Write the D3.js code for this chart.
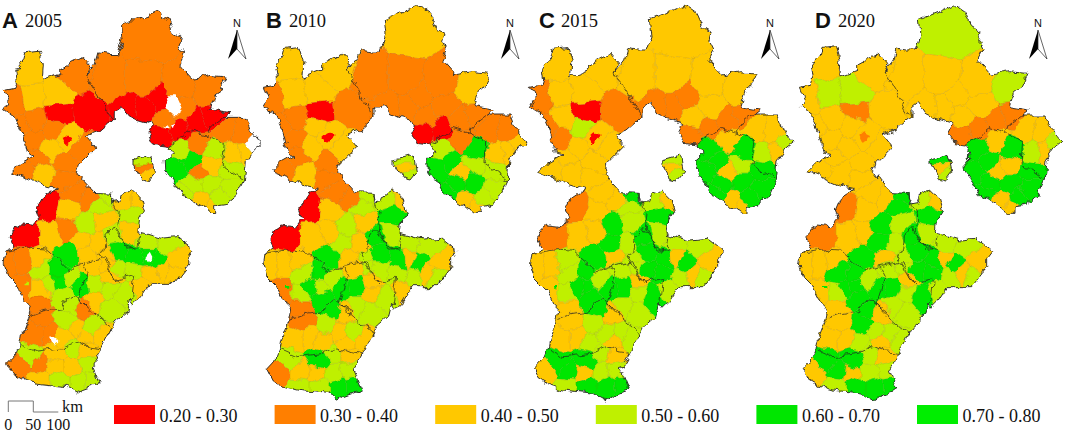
<!DOCTYPE html>
<html>
<head>
<meta charset="utf-8">
<script src="https://cdn.jsdelivr.net/npm/d3@7"></script>
<style>
  html, body { margin: 0; background: #fff; }
  svg { display: block; }
  .serif { font-family: "Liberation Serif", serif; fill: #111; }
  .letter { font-family: "Liberation Sans", sans-serif; font-weight: bold; fill: #111; }
</style>
</head>
<body>
<div id="chart"></div>
<script>
// panels
var panelNames = ["A", "B", "C", "D"];
var panelYears = ["2005", "2010", "2015", "2020"];

// legend
var legendLabels = ["0.20 - 0.30", "0.30 - 0.40", "0.40 - 0.50", "0.50 - 0.60", "0.60 - 0.70", "0.70 - 0.80"];
var legendValues = [25, 35, 45, 55, 65, 75];
var classBreaks = [30, 40, 50, 60, 70];
var classColors = ["#ff0000", "#ff7f00", "#ffc800", "#bff000", "#00e600", "#00ee00"];

// map outline, in map units
var outlineMain = [[10,262],[45,255],[50,240],[45,205],[72,170],[78,145],[120,140],[132,180],[128,232],[185,210],[185,195],[250,160],[275,190],[262,215],[290,180],[300,145],[330,150],[360,150],[375,105],[370,60],[440,30],[475,15],[510,40],[530,85],[555,100],[548,125],[560,150],[545,180],[585,225],[640,215],[690,220],[670,265],[655,275],[640,320],[700,330],[680,345],[750,345],[765,385],[800,425],[775,445],[750,480],[745,540],[725,585],[690,615],[660,620],[660,640],[640,640],[620,625],[575,595],[555,590],[530,545],[505,510],[503,480],[525,460],[508,435],[470,430],[455,400],[470,370],[420,355],[390,340],[370,310],[345,330],[345,350],[300,390],[262,405],[290,440],[240,490],[232,515],[250,540],[285,578],[340,580],[340,610],[365,605],[370,590],[400,570],[430,600],[440,635],[425,660],[420,700],[440,705],[490,720],[540,715],[590,755],[575,775],[575,800],[530,860],[455,860],[430,900],[405,925],[395,910],[385,950],[350,980],[335,1010],[310,1060],[280,1110],[305,1170],[250,1190],[235,1200],[200,1180],[110,1170],[75,1160],[40,1140],[22,1105],[50,1075],[60,1050],[65,1020],[90,955],[95,930],[75,910],[50,860],[20,830],[10,795],[15,760],[45,745],[30,715],[45,685],[60,675],[105,680],[125,655],[115,630],[130,595],[175,565],[130,555],[85,535],[35,515],[60,490],[105,465],[85,460],[70,395],[50,350],[10,320],[25,295]];
var outlineIsland = [[405,480],[460,465],[470,515],[450,540],[430,535],[405,490]];

// county centres, same order as the value arrays below
var countySites = [
  // Zhangjiakou
  [90,190],[100,290],[170,280],[230,210],[40,300],[60,380],[105,420],[110,355],[175,335],[270,330],[165,378],[205,412],[150,440],[245,445],[205,490],[200,535],[130,520],[75,510],[115,470],
  // Chengde
  [460,100],[330,240],[440,240],[540,250],[640,270],[440,320],[480,290],[395,325],[550,320],[500,355],[490,400],[545,385],[600,365],[650,345],
  // Qinhuangdao
  [690,385],[735,395],[775,432],[712,462],[745,455],
  // Tangshan
  [550,450],[535,510],[575,485],[605,420],[650,450],[640,495],[605,515],[590,552],[640,550],[705,510],[705,565],[610,605],[650,625],[570,585],[670,595],
  // Langfang north
  [430,480],[430,505],[445,530],
  // Baoding
  [150,620],[80,710],[210,630],[225,578],[275,600],[160,710],[205,695],[262,675],[310,665],[300,620],[252,730],[205,775],[300,735],[268,770],[320,580],
  // Langfang south
  [385,600],[420,600],[400,645],[390,700],
  // Cangzhou
  [350,710],[360,755],[320,775],[420,780],[450,775],[450,730],[510,740],[545,785],[475,790],[360,810],[410,820],[500,820],[460,830],[525,830],[430,870],
  // Hengshui
  [280,810],[325,800],[290,860],[335,840],[335,880],[290,920],[375,895],[330,935],
  // Shijiazhuang
  [70,790],[30,790],[110,785],[130,820],[180,820],[150,860],[180,855],[215,840],[245,865],[195,900],[70,880],[120,880],[120,925],
  // Xingtai
  [130,965],[110,1010],[150,1010],[215,925],[200,975],[240,1000],[280,1000],[258,940],[310,1020],[258,1025],[190,1025],
  // Handan
  [90,1090],[60,1115],[175,1080],[125,1115],[165,1120],[225,1060],[265,1070],[225,1120],[120,1160],[180,1160],[240,1160],[280,1160],[270,1110]
];

// index per county, x100, middle of the class (null = no data)
var values2005 = [
  45,45,45,35,35,35,35,35,25,25,35,45,45,35,35,35,45,35,35,
  35,35,35,35,35,25,25,25,35,35,25,25,25,25,
  35,35,null,45,45,
  55,65,65,35,55,45,35,55,55,55,55,45,45,55,55,
  55,35,45,
  25,25,45,35,35,45,35,55,45,55,45,65,45,45,55,
  45,45,55,45,
  55,65,45,65,65,55,55,45,65,55,55,45,45,45,45,
  45,45,55,45,55,45,55,55,
  35,35,45,55,65,55,65,55,65,55,35,45,35,
  35,35,35,55,55,45,55,35,45,45,45,
  55,35,45,35,45,55,45,45,45,55,55,55,55
];
var values2010 = [
  45,45,45,45,35,35,35,35,25,35,45,45,45,45,35,35,45,35,35,
  45,35,35,35,45,35,35,35,35,35,25,25,35,35,
  35,35,45,45,45,
  55,65,65,35,65,55,45,65,65,55,55,45,45,65,55,
  55,45,55,
  25,25,45,35,35,45,45,55,45,55,55,65,45,45,55,
  55,45,65,55,
  65,65,55,65,45,55,55,45,65,55,55,45,55,55,45,
  45,55,65,45,45,55,55,55,
  45,45,45,55,65,65,55,55,65,65,35,55,35,
  35,45,45,65,55,45,55,45,45,45,45,
  55,35,65,45,45,55,45,55,55,55,65,65,55
];
var values2015 = [
  45,45,45,45,35,35,35,45,25,35,55,45,45,45,45,45,45,45,45,
  45,45,45,45,45,35,35,35,45,45,35,35,35,35,
  45,45,55,55,45,
  65,65,65,45,65,55,45,65,65,65,65,45,45,65,65,
  55,45,55,
  35,35,45,45,45,45,45,65,55,55,65,65,55,45,65,
  55,45,65,55,
  65,65,55,65,45,55,55,45,65,65,65,45,55,55,55,
  55,55,65,45,55,55,65,55,
  45,45,55,55,65,65,65,55,65,65,45,55,45,
  45,45,45,65,55,55,55,45,55,45,55,
  65,45,65,65,45,55,45,55,55,65,65,65,55
];
var values2020 = [
  45,55,55,45,45,45,45,45,35,45,45,45,45,45,45,45,45,45,45,
  55,45,45,45,55,45,45,45,45,45,35,35,35,35,
  45,45,55,55,45,
  65,65,65,45,65,45,45,65,65,65,65,45,45,65,65,
  65,45,55,
  35,35,45,45,45,45,45,65,55,65,65,65,55,45,65,
  55,45,65,55,
  65,65,55,65,45,55,55,45,65,65,65,45,55,55,55,
  55,55,65,45,55,55,65,55,
  45,45,45,65,65,65,65,55,65,65,45,55,45,
  45,45,45,65,65,55,55,45,55,45,55,
  65,45,65,65,45,55,45,55,55,65,65,65,55
];
var panelValues = [values2005, values2010, values2015, values2020];

// small spots on top of the counties (white gaps in 2005, two tiny counties)
var spotRings = [
  [[497,310],[518,276],[538,276],[558,320],[548,335],[528,335]],
  [[500,375],[515,368],[510,380]],
  [[520,368],[533,362],[530,375]],
  [[440,775],[450,762],[458,778],[448,790]],
  [[150,1025],[162,1025],[178,1040],[165,1050],[155,1048]],
  [[78,855],[88,855],[88,866],[78,866]],
  [[190,410],[205,397],[222,405],[215,420],[200,432]]
];
var spotValues = [
  [null, null, null, null, null, 55, 25],
  [0, 0, 0, 0, 0, 65, 25],
  [0, 0, 0, 0, 0, 65, 25],
  [0, 0, 0, 0, 0, 65, 35]
];

// prefecture borders
var borderLines = [
  [[262,215],[300,275],[330,330],[345,350]],
  [[680,345],[640,375],[630,400],[580,385],[560,400],[508,435]],
  [[630,400],[680,425],[675,490],[745,540]],
  [[335,580],[350,620],[360,640],[355,690],[390,750],[420,750],[425,710]],
  [[300,765],[320,755],[325,710],[345,685],[385,740],[410,750]],
  [[300,765],[320,800],[350,850],[410,835],[400,915]],
  [[250,800],[320,785],[345,840],[360,855]],
  [[250,800],[265,830],[240,910],[280,950],[340,1000],[335,1010]],
  [[15,760],[100,748],[135,750],[175,785],[205,815],[250,800]],
  [[90,960],[130,945],[190,935],[195,915],[230,895],[250,920],[275,935],[270,950]],
  [[65,1050],[110,1070],[190,1060],[235,1040],[270,1055],[310,1060]]
];

var width = 1065, height = 432;
var mapW = 810, mapH = 1200;

// where each panel sits on the page
var panelX = [0, 260, 527, 796];
var panelTop = [11, 5, 5, 5];
var panelSx = [0.985, 1, 1, 1];
var panelSy = [0.967, 1, 1, 1];
var letterX = [2, 266, 539, 815];
var yearX = [25, 289, 561, 838];
var northX = [237, 510, 770, 1038];

var svg = d3.select("#chart").append("svg")
  .attr("width", width)
  .attr("height", height);

// roughens the straight cell edges so they read as county borders
var rough = svg.append("filter")
  .attr("id", "rough")
  .attr("filterUnits", "userSpaceOnUse")
  .attr("x", 0).attr("y", 0)
  .attr("width", width).attr("height", height)
  .attr("color-interpolation-filters", "sRGB");
rough.append("feTurbulence")
  .attr("type", "fractalNoise")
  .attr("baseFrequency", 0.09)
  .attr("numOctaves", 3)
  .attr("seed", 4)
  .attr("result", "noise");
rough.append("feDisplacementMap")
  .attr("in", "SourceGraphic")
  .attr("in2", "noise")
  .attr("scale", 9)
  .attr("xChannelSelector", "R")
  .attr("yChannelSelector", "G")
  .attr("result", "moved");
rough.append("feGaussianBlur")
  .attr("in", "moved")
  .attr("stdDeviation", 0.3);

var fill = d3.scaleThreshold().domain(classBreaks).range(classColors);
function colorOf(v) {
  return (v == null || v == 0) ? "#fff" : fill(v);
}

var voronoi = d3.Delaunay.from(countySites).voronoi([0, 0, mapW, mapH + 10]);

function drawPanel(p) {
  var x = d3.scaleLinear().domain([0, mapW]).range([panelX[p], panelX[p] + mapW / 3 * panelSx[p]]);
  var y = d3.scaleLinear().domain([15, mapH]).range([panelTop[p], panelTop[p] + (mapH - 15) / 3 * panelSy[p]]);
  var line = d3.line().x(function(d) { return x(d[0]); }).y(function(d) { return y(d[1]); });
  var ringPath = function(r) { return line(r) + "Z"; };
  var outlinePath = ringPath(outlineMain) + ringPath(outlineIsland);

  var g = svg.append("g").attr("class", "panel" + panelNames[p]);
  var map = g.append("g").attr("filter", "url(#rough)");

  map.append("clipPath").attr("id", "clip" + p)
    .append("path").attr("d", outlinePath);

  var cells = map.append("g").attr("clip-path", "url(#clip" + p + ")");

  // counties
  cells.selectAll("path.county")
    .data(countySites)
    .enter()
    .append("path")
    .attr("class", "county")
    .attr("d", function(d, i) {
      return ringPath(voronoi.cellPolygon(i));
    })
    .attr("fill", function(d, i) {
      return colorOf(panelValues[p][i]);
    })
    .attr("stroke", function(d, i) {
      return colorOf(panelValues[p][i]);
    })
    .attr("stroke-width", 0.4);

  // faint county lines
  cells.selectAll("path.countyline")
    .data(countySites)
    .enter()
    .append("path")
    .attr("class", "countyline")
    .attr("d", function(d, i) {
      return ringPath(voronoi.cellPolygon(i));
    })
    .attr("fill", "none")
    .attr("stroke", "#7a6a20")
    .attr("stroke-opacity", 0.2)
    .attr("stroke-width", 0.5);

  // spots
  cells.selectAll("path.spot")
    .data(spotRings)
    .enter()
    .append("path")
    .attr("class", "spot")
    .attr("d", ringPath)
    .attr("fill", function(d, i) {
      return colorOf(spotValues[p][i]);
    })
    .attr("display", function(d, i) {
      return spotValues[p][i] === 0 ? "none" : null;
    });

  // prefecture borders
  map.selectAll("path.border")
    .data(borderLines)
    .enter()
    .append("path")
    .attr("class", "border")
    .attr("d", line)
    .attr("fill", "none")
    .attr("stroke", "#222")
    .attr("stroke-width", 0.7);

  // outline
  map.append("path")
    .attr("d", outlinePath)
    .attr("fill", "none")
    .attr("stroke", "#222")
    .attr("stroke-width", 0.9);

  // title
  g.append("text")
    .attr("class", "letter")
    .attr("x", letterX[p])
    .attr("y", 27.5)
    .attr("font-size", 22)
    .text(panelNames[p]);
  g.append("text")
    .attr("class", "serif")
    .attr("x", yearX[p])
    .attr("y", 27)
    .attr("font-size", 18.5)
    .text(panelYears[p]);

  drawNorth(g, northX[p]);
}

// north arrow
function drawNorth(g, cx) {
  var a = g.append("g").attr("transform", "translate(" + cx + ",0)");
  a.append("text")
    .attr("text-anchor", "middle")
    .attr("y", 27)
    .attr("font-family", "Liberation Sans, sans-serif")
    .attr("font-size", 11)
    .attr("fill", "#111")
    .text("N");
  a.append("path")
    .attr("d", "M0,30 L-9,59 L0,49 Z")
    .attr("fill", "#000");
  a.append("path")
    .attr("d", "M0,30 L9,59 L0,49 Z")
    .attr("fill", "#fff")
    .attr("stroke", "#222")
    .attr("stroke-width", 0.7);
}

for (var p = 0; p < panelNames.length; p++) {
  drawPanel(p);
}

// scale bar
var bar = d3.scaleLinear().domain([0, 100]).range([8.3, 58.3]);
var barTicks = [0, 50, 100];
svg.append("path")
  .attr("d", "M" + bar(0) + ",412V401H" + bar(50) + "V412H" + bar(100))
  .attr("fill", "none")
  .attr("stroke", "#777")
  .attr("stroke-width", 1);
svg.selectAll("text.bar")
  .data(barTicks)
  .enter()
  .append("text")
  .attr("class", "serif bar")
  .attr("x", function(d) { return bar(d); })
  .attr("y", 430)
  .attr("text-anchor", "middle")
  .attr("font-size", 16)
  .text(function(d) { return d; });
svg.append("text")
  .attr("class", "serif")
  .attr("x", 62)
  .attr("y", 412)
  .attr("font-size", 16.5)
  .text("km");

// legend
var legendX = d3.scaleLinear().domain([0, 5]).range([114, 917]);
var items = svg.selectAll("g.legend")
  .data(legendLabels)
  .enter()
  .append("g")
  .attr("class", "legend");
items.append("rect")
  .attr("x", function(d, i) { return legendX(i); })
  .attr("y", 405)
  .attr("width", 41)
  .attr("height", 19)
  .attr("fill", function(d, i) { return colorOf(legendValues[i]); });
items.append("text")
  .attr("class", "serif")
  .attr("x", function(d, i) { return legendX(i) + 45.5; })
  .attr("y", 421.5)
  .attr("font-size", 18)
  .text(function(d) { return d; });
</script>
</body>
</html>
